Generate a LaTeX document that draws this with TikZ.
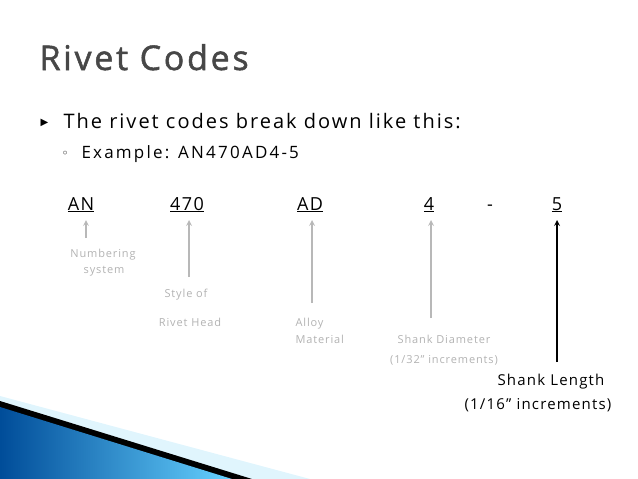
\documentclass[tikz,border=0pt]{standalone}
\usepackage{fontspec}
\setmainfont{Open Sans}[LetterSpace=8]
\newfontfamily\symfont{DejaVu Sans}
\begin{document}
\begin{tikzpicture}[x=1pt,y=-1pt,
  code/.style={anchor=base,font=\fontsize{18}{21}\selectfont},
  lbl/.style={text=black!30,font=\fontsize{11}{13}\selectfont,anchor=base},
  garrow/.style={->,black!28,line width=1.6pt,>=stealth},
  barrow/.style={->,black,line width=1.6pt,>=stealth}]
  \useasboundingbox (0,0) rectangle (638,479);
  % corner decoration
  \fill[cyan!12] (0,396) -- (310,479) -- (0,479) -- cycle;
  \fill[black] (0,401) -- (252,479) -- (0,479) -- cycle;
  \shade[left color=cyan!50!blue!60!black,right color=cyan!70!blue!60] (0,407) -- (232,479) -- (0,479) -- cycle;
  % title and bullets
  \node[anchor=base west,text=black!72,font=\fontsize{34}{40}\selectfont\addfontfeatures{FakeBold=1.5}] (title) at (36,70) {Rivet Codes};
  \node[anchor=base west,font=\symfont\fontsize{10}{12}\selectfont] (b1) at (37,125) {▶};
  \node[anchor=base west,font=\fontsize{20}{24}\selectfont\addfontfeatures{LetterSpace=10}] (t1) at (60,128) {The rivet codes break down like this:};
  \node[anchor=base west,font=\fontsize{17}{20}\selectfont\addfontfeatures{LetterSpace=13}] (t2) at (78,158) {Example: AN470AD4-5};
  \node[anchor=base west,font=\symfont\fontsize{12}{14}\selectfont] (b2) at (58,157) {◦};
  % codes
  \node[code] (an) at (81,210) {\underline{AN}};
  \node[code] (n470) at (187,210) {\underline{470}};
  \node[code] (ad) at (310,210) {\underline{AD}};
  \node[code] (n4) at (429,210) {\underline{4}};
  \node[code] (dash) at (490,210) {-};
  \node[code] (n5) at (557,210) {\underline{5}};
  % labels
  \node[lbl] (l1a) at (103,257) {Numbering};
  \node[lbl] (l1b) at (104,273) {system};
  \node[lbl] (l2a) at (186,297) {Style of};
  \node[lbl] (l2b) at (190,326) {Rivet Head};
  \node[lbl,anchor=base west] (l3a) at (292,326) {Alloy};
  \node[lbl,anchor=base west] (l3b) at (292,343) {Material};
  \node[lbl] (l4a) at (444,343) {Shank Diameter};
  \node[lbl] (l4b) at (444,363) {(1/32" increments)};
  \node[anchor=base,font=\fontsize{15}{18}\selectfont] (l5a) at (551,385) {Shank Length};
  \node[anchor=base,font=\fontsize{15}{18}\selectfont] (l5b) at (538,409) {(1/16" increments)};
  % arrows
  \coordinate (e1) at (86,238);
  \coordinate (e2) at (189,277);
  \coordinate (e3) at (312,303);
  \coordinate (e4) at (431,318);
  \coordinate (e5) at (557,362);
  \draw[garrow] (e1) -- (e1 |- 0,220);
  \draw[garrow] (e2) -- (e2 |- 0,220);
  \draw[garrow] (e3) -- (e3 |- 0,220);
  \draw[garrow] (e4) -- (e4 |- 0,220);
  \draw[barrow] (e5) -- (e5 |- 0,220);
\end{tikzpicture}
\end{document}
